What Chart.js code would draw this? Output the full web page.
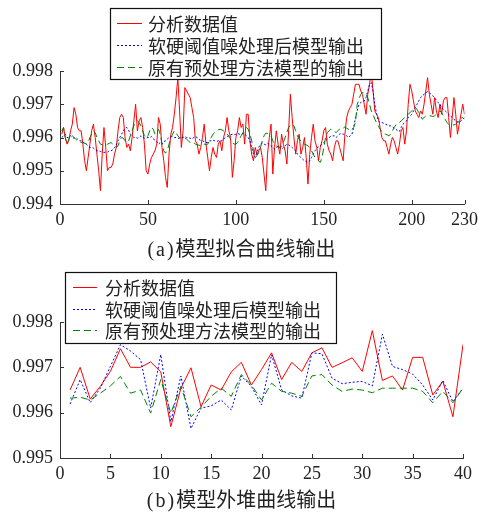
<!DOCTYPE html>
<html><head><meta charset="utf-8">
<script src="https://cdn.jsdelivr.net/npm/chart.js@4.4.1/dist/chart.umd.min.js"></script>
<style>
html,body{margin:0;padding:0;background:#fff;}
#wrap{position:relative;width:483px;height:513px;overflow:hidden;background:#fff;}
canvas{position:absolute;left:0;}
.cap{position:absolute;left:0;width:483px;text-align:center;font-family:"Noto Sans CJK SC";font-size:20px;color:#222;line-height:24px;z-index:5;}
.cap span{font-family:"Liberation Serif";letter-spacing:2px;}
</style></head><body>
<div id="wrap">
<canvas id="c1" width="483" height="260" style="top:0"></canvas>
<canvas id="c2" width="483" height="253" style="top:260px"></canvas>
<div class="cap" style="top:236px"><span>(a)</span>模型拟合曲线输出</div>
<div class="cap" style="top:487px"><span>(b)</span>模型外堆曲线输出</div>
</div>
<script>
const seriesNames = ['分析数据值','软硬阈值噪处理后模型输出','原有预处理方法模型的输出'];
const xTicksTop = [0,50,100,150,200,230];
const yTicksTop = [0.994,0.995,0.996,0.997,0.998];
const xTicksBot = [0,5,10,15,20,25,30,35,40];
const yTicksBot = [0.995,0.996,0.997,0.998];

const redTop = [
0.9961,0.9963,0.9960,0.9958,0.9959,0.9962,0.9964,0.9969,0.9967,0.9963,
0.9962,0.9962,0.9958,0.9953,0.9950,0.9954,0.9958,0.9962,0.9964,0.9960,
0.9955,0.9950,0.9944,0.9955,0.9963,0.9957,0.9950,0.9951,0.9951,0.9952,
0.9955,0.9957,0.9962,0.9966,0.9967,0.9966,0.9960,0.9957,0.9958,0.9956,
0.9960,0.9965,0.9970,0.9962,0.9965,0.9966,0.9963,0.9958,0.9950,0.9949,
0.9952,0.9954,0.9955,0.9956,0.9958,0.9966,0.9964,0.9957,0.9953,0.9948,
0.9945,0.9955,0.9961,0.9963,0.9967,0.9972,0.9978,0.9968,0.9957,0.9962,
0.9975,0.9974,0.9973,0.9972,0.9969,0.9966,0.9959,0.9958,0.9955,0.9957,
0.9960,0.9964,0.9958,0.9954,0.9950,0.9954,0.9957,0.9955,0.9954,0.9958,
0.9959,0.9956,0.9960,0.9962,0.9966,0.9962,0.9960,0.9948,0.9953,0.9960,
0.9962,0.9966,0.9963,0.9964,0.9958,0.9967,0.9967,0.9959,0.9955,0.9953,
0.9957,0.9955,0.9956,0.9957,0.9954,0.9949,0.9944,0.9955,0.9960,0.9964,
0.9949,0.9957,0.9962,0.9958,0.9955,0.9961,0.9958,0.9956,0.9952,0.9962,
0.9973,0.9966,0.9960,0.9955,0.9959,0.9961,0.9955,0.9957,0.9960,0.9954,
0.9946,0.9955,0.9960,0.9964,0.9959,0.9957,0.9953,0.9957,0.9959,0.9962,
0.9963,0.9958,0.9956,0.9955,0.9953,0.9957,0.9959,0.9959,0.9957,0.9955,
0.9953,0.9961,0.9966,0.9968,0.9969,0.9970,0.9973,0.9976,0.9976,0.9976,
0.9974,0.9973,0.9970,0.9967,0.9973,0.9976,0.9980,0.9974,0.9968,0.9967,
0.9966,0.9963,0.9960,0.9959,0.9959,0.9957,0.9955,0.9958,0.9960,0.9959,
0.9957,0.9955,0.9958,0.9962,0.9963,0.9958,0.9962,0.9970,0.9976,0.9974,
0.9971,0.9968,0.9967,0.9966,0.9968,0.9967,0.9970,0.9974,0.9978,0.9973,
0.9970,0.9967,0.9972,0.9968,0.9966,0.9970,0.9967,0.9971,0.9972,0.9972,
0.9966,0.9960,0.9966,0.9972,0.9967,0.9961,0.9964,0.9967,0.9970,0.9967];

const blueTop = [
0.99600,0.99605,0.99610,0.99600,0.99600,0.99605,0.99600,0.99598,0.99600,0.99595,
0.99590,0.99590,0.99588,0.99580,0.99580,0.99575,0.99570,0.99570,0.99568,0.99563,
0.99560,0.99560,0.99558,0.99556,0.99555,0.99556,0.99556,0.99560,0.99560,0.99563,
0.99570,0.99578,0.99590,0.99600,0.99610,0.99620,0.99628,0.99630,0.99622,0.99610,
0.99605,0.99600,0.99600,0.99598,0.99600,0.99605,0.99600,0.99598,0.99598,0.99600,
0.99600,0.99603,0.99598,0.99590,0.99588,0.99580,0.99585,0.99580,0.99588,0.99590,
0.99595,0.99600,0.99603,0.99603,0.99600,0.99600,0.99598,0.99598,0.99600,0.99600,
0.99603,0.99600,0.99600,0.99598,0.99595,0.99600,0.99603,0.99600,0.99595,0.99590,
0.99590,0.99588,0.99585,0.99585,0.99590,0.99590,0.99592,0.99590,0.99588,0.99590,
0.99592,0.99590,0.99595,0.99600,0.99603,0.99605,0.99608,0.99610,0.99608,0.99610,
0.99612,0.99610,0.99608,0.99612,0.99610,0.99605,0.99600,0.99590,0.99570,0.99550,
0.99540,0.99555,0.99570,0.99580,0.99583,0.99580,0.99578,0.99583,0.99580,0.99575,
0.99570,0.99565,0.99570,0.99575,0.99570,0.99565,0.99570,0.99575,0.99580,0.99578,
0.99575,0.99570,0.99565,0.99560,0.99550,0.99545,0.99540,0.99535,0.99530,0.99528,
0.99525,0.99530,0.99540,0.99550,0.99560,0.99568,0.99572,0.99575,0.99580,0.99585,
0.99590,0.99595,0.99600,0.99603,0.99605,0.99605,0.99600,0.99605,0.99610,0.99612,
0.99610,0.99608,0.99605,0.99600,0.99605,0.99610,0.99630,0.99660,0.99680,0.99700,
0.99705,0.99708,0.99710,0.99720,0.99740,0.99760,0.99765,0.99740,0.99700,0.99670,
0.99650,0.99645,0.99645,0.99643,0.99640,0.99638,0.99635,0.99635,0.99632,0.99628,
0.99625,0.99620,0.99618,0.99630,0.99640,0.99645,0.99650,0.99660,0.99665,0.99670,
0.99680,0.99690,0.99700,0.99710,0.99720,0.99725,0.99730,0.99735,0.99738,0.99735,
0.99730,0.99725,0.99720,0.99712,0.99705,0.99700,0.99690,0.99685,0.99680,0.99675,
0.99670,0.99665,0.99660,0.99655,0.99650,0.99648,0.99645,0.99650,0.99655,0.99660];

const greenTop = [
0.99620,0.99630,0.99600,0.99580,0.99595,0.99610,0.99605,0.99600,0.99595,0.99590,
0.99588,0.99585,0.99585,0.99583,0.99580,0.99585,0.99600,0.99610,0.99620,0.99615,
0.99600,0.99590,0.99580,0.99578,0.99575,0.99577,0.99580,0.99582,0.99585,0.99580,
0.99575,0.99570,0.99575,0.99590,0.99600,0.99598,0.99590,0.99585,0.99590,0.99605,
0.99620,0.99635,0.99645,0.99650,0.99645,0.99635,0.99620,0.99605,0.99598,0.99605,
0.99620,0.99630,0.99625,0.99610,0.99615,0.99625,0.99610,0.99580,0.99560,0.99553,
0.99560,0.99580,0.99598,0.99610,0.99620,0.99615,0.99605,0.99600,0.99598,0.99595,
0.99598,0.99595,0.99590,0.99585,0.99583,0.99585,0.99580,0.99578,0.99577,0.99575,
0.99575,0.99580,0.99578,0.99580,0.99590,0.99600,0.99610,0.99615,0.99620,0.99623,
0.99625,0.99623,0.99620,0.99615,0.99610,0.99605,0.99595,0.99585,0.99580,0.99580,
0.99585,0.99595,0.99605,0.99615,0.99625,0.99630,0.99625,0.99610,0.99590,0.99560,
0.99540,0.99545,0.99555,0.99570,0.99590,0.99605,0.99613,0.99612,0.99610,0.99605,
0.99590,0.99580,0.99575,0.99570,0.99570,0.99572,0.99585,0.99600,0.99615,0.99630,
0.99638,0.99640,0.99635,0.99620,0.99605,0.99595,0.99590,0.99585,0.99580,0.99578,
0.99575,0.99570,0.99560,0.99550,0.99540,0.99535,0.99530,0.99525,0.99540,0.99570,
0.99600,0.99615,0.99620,0.99625,0.99622,0.99618,0.99615,0.99620,0.99625,0.99630,
0.99628,0.99632,0.99628,0.99625,0.99620,0.99625,0.99630,0.99645,0.99700,0.99715,
0.99730,0.99735,0.99735,0.99730,0.99720,0.99700,0.99680,0.99670,0.99655,0.99645,
0.99635,0.99625,0.99618,0.99612,0.99610,0.99608,0.99605,0.99610,0.99620,0.99630,
0.99638,0.99640,0.99645,0.99650,0.99655,0.99660,0.99665,0.99670,0.99675,0.99680,
0.99685,0.99690,0.99685,0.99675,0.99665,0.99655,0.99660,0.99665,0.99665,0.99665,
0.99665,0.99663,0.99665,0.99670,0.99675,0.99680,0.99675,0.99665,0.99655,0.99645,
0.99640,0.99640,0.99638,0.99638,0.99640,0.99645,0.99650,0.99658,0.99660,0.99655];

const redBot = [0.99650,0.99700,0.99630,0.99658,0.99691,0.99741,0.99700,0.99700,0.99712,0.99690,
0.99569,0.99654,0.99699,0.99613,0.99661,0.99650,0.99690,0.99711,0.99661,0.99695,
0.99732,0.99673,0.99711,0.99691,0.99732,0.99743,0.99700,0.99710,0.99721,0.99691,
0.99781,0.99671,0.99681,0.99650,0.99722,0.99722,0.99639,0.99669,0.99591,0.99750];
const blueBot = [0.99619,0.99673,0.99622,0.99654,0.99702,0.99750,0.99736,0.99717,0.99610,0.99728,
0.99580,0.99681,0.99565,0.99610,0.99615,0.99628,0.99606,0.99681,0.99658,0.99617,
0.99728,0.99650,0.99637,0.99632,0.99732,0.99730,0.99676,0.99664,0.99667,0.99669,
0.99659,0.99773,0.99702,0.99695,0.99685,0.99661,0.99628,0.99671,0.99624,0.99654];
const greenBot = [0.99632,0.99634,0.99628,0.99643,0.99659,0.99680,0.99643,0.99650,0.99599,0.99673,
0.99599,0.99658,0.99591,0.99612,0.99636,0.99654,0.99636,0.99684,0.99661,0.99628,
0.99665,0.99647,0.99643,0.99636,0.99681,0.99684,0.99661,0.99647,0.99652,0.99650,
0.99644,0.99654,0.99654,0.99654,0.99654,0.99647,0.99622,0.99647,0.99622,0.99654];

const innerTicks = {id:'innerTicks', afterDraw(chart){
  const {ctx, chartArea:a, scales:{x,y}} = chart;
  ctx.save(); ctx.strokeStyle='#333'; ctx.lineWidth=1; ctx.setLineDash([]);
  ctx.beginPath();
  x.ticks.forEach(t=>{const px=Math.round(x.getPixelForValue(t.value))+0.5; ctx.moveTo(px,a.bottom); ctx.lineTo(px,a.bottom-4);});
  y.ticks.forEach(t=>{const py=Math.round(y.getPixelForValue(t.value))+0.5; ctx.moveTo(a.left,py); ctx.lineTo(a.left+4,py);});
  ctx.stroke(); ctx.restore();
}};

function legendPlugin(box){
  return {id:'boxLegend', afterDatasetsDraw(chart){
    const ctx = chart.ctx; ctx.save();
    ctx.fillStyle='#fff'; ctx.fillRect(box.x, box.y, box.w, box.h);
    ctx.strokeStyle='#111'; ctx.lineWidth=1.2; ctx.setLineDash([]);
    ctx.strokeRect(box.x+0.5, box.y+0.5, box.w, box.h);
    chart.data.datasets.forEach((ds,i)=>{
      const y = box.rows[i];
      ctx.strokeStyle = ds.borderColor; ctx.lineWidth = ds.borderWidth; ctx.setLineDash(ds.borderDash||[]);
      ctx.beginPath(); ctx.moveTo(box.l0, y+0.5); ctx.lineTo(box.l1, y+0.5); ctx.stroke();
      ctx.setLineDash([]);
      ctx.fillStyle='#222'; ctx.font='18px "Noto Sans CJK SC"'; ctx.textBaseline='middle'; ctx.textAlign='left';
      ctx.fillText(ds.label, box.tx, y+1);
    });
    ctx.restore();
  }};
}

function makeDatasets(r,b,g){
  const pts = arr => arr.map((v,i)=>({x:i+1, y:v}));
  return [
    {label:seriesNames[0], data:pts(r), borderColor:'rgb(255,0,0)', borderWidth:1, pointRadius:0, tension:0, order:3},
    {label:seriesNames[1], data:pts(b), borderColor:'rgb(0,0,255)', borderWidth:1, borderDash:[2,2], pointRadius:0, tension:0, order:2},
    {label:seriesNames[2], data:pts(g), borderColor:'rgb(0,128,0)', borderWidth:1, borderDash:[7,4], pointRadius:0, tension:0, order:1}
  ];
}

function makeChart(id, ds, xTicks, yTicks, pad, box){
  const font = {family:'"Liberation Serif", "Times New Roman", serif', size:18};
  return new Chart(document.getElementById(id), {
    type:'line',
    data:{datasets:ds},
    options:{
      responsive:false, animation:false,
      layout:{padding:pad},
      plugins:{legend:{display:false}, tooltip:{enabled:false}},
      scales:{
        x:{type:'linear', min:xTicks[0], max:xTicks[xTicks.length-1],
           afterBuildTicks:s=>{s.ticks = xTicks.map(v=>({value:v}));},
           afterFit:s=>{s.height=30;},
           grid:{display:false, drawTicks:false},
           border:{display:true, color:'#333', width:1},
           ticks:{padding:5, color:'#222', font, maxRotation:0, autoSkip:false, callback:v=>String(v)}},
        y:{type:'linear', min:yTicks[0], max:yTicks[yTicks.length-1],
           afterBuildTicks:s=>{s.ticks = yTicks.map(v=>({value:v}));},
           afterFit:s=>{s.width=60;},
           grid:{display:false, drawTicks:false},
           border:{display:true, color:'#333', width:1},
           ticks:{padding:7, color:'#222', font, autoSkip:false, callback:v=>Number(v).toFixed(3)}}
      }
    },
    plugins:[innerTicks, legendPlugin(box)]
  });
}

makeChart('c1', makeDatasets(redTop, blueTop, greenTop), xTicksTop, yTicksTop,
  {left:0, top:71, right:16, bottom:26},
  {x:110, y:8, w:271, h:71, l0:117, l1:142, tx:148, rows:[23,45,67]});
makeChart('c2', makeDatasets(redBot, blueBot, greenBot), xTicksBot, yTicksBot,
  {left:0, top:62, right:20, bottom:25},
  {x:65, y:12, w:271, h:71, l0:73, l1:97, tx:105, rows:[27,49,70]});
</script>
</body></html>
